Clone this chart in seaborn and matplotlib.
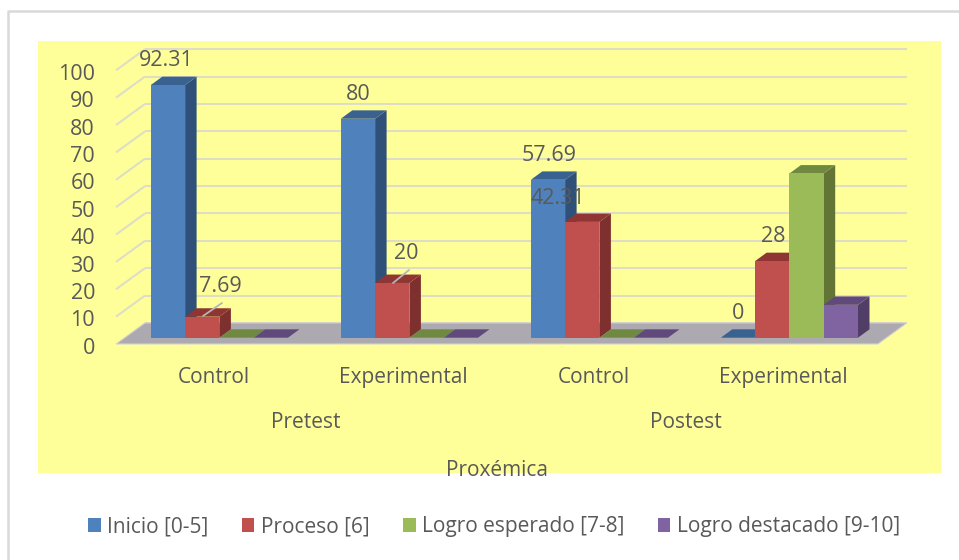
import numpy as np
import pandas as pd
import matplotlib
matplotlib.use("Agg")
import matplotlib.pyplot as plt
from matplotlib.patches import Polygon, Rectangle
from matplotlib.transforms import Affine2D
import seaborn as sns

groups = ["Pretest Control", "Pretest Experimental", "Postest Control", "Postest Experimental"]
tick_labels = ["Control", "Experimental", "Control", "Experimental"]
phases = ["Pretest", "Postest"]
levels = ["Inicio [0-5]", "Proceso [6]", "Logro esperado [7-8]", "Logro destacado [9-10]"]
inicio = [92.31, 80, 57.69, 0]
proceso = [7.69, 20, 42.31, 28]
esperado = [0, 0, 0, 60]
destacado = [0, 0, 0, 12]
y_ticks = list(range(0, 101, 10))

front_cols = ["#4F81BD", "#C0504D", "#9BBB59", "#8064A2"]
top_cols = ["#3A6291", "#8F3533", "#6F8A40", "#604A7B"]
side_cols = ["#2F5179", "#7E302E", "#637534", "#503E66"]
text_col = "#595959"
grid_col = "#DEDDC6"
W, H = 959, 560

sns.set_theme(style="white")
plt.rcParams["font.family"] = ["Open Sans", "DejaVu Sans"]

df = pd.DataFrame({
    "group": np.repeat(groups, 4),
    "level": levels * 4,
    "value": [v for row in zip(inicio, proceso, esperado, destacado) for v in row],
})

fig = plt.figure(figsize=(W / 100, H / 100), dpi=100, facecolor="white")

# outer frame and yellow plot area, in pixels of the figure
px = fig.add_axes([0, 0, 1, 1], zorder=0)
px.set_xlim(0, W)
px.set_ylim(H, 0)
px.axis("off")
px.plot([8, 8, W], [H, 11, 11], color="#D9D9D9", lw=1.8)
px.add_patch(Rectangle((38, 41), 903, 432, color="#FFFF99", lw=0))

# main axes = the plane of the bar fronts
left, right, base, top = 100, 900, 337.7, 64
ax = fig.add_axes([left / W, 1 - base / H, (right - left) / W, (base - top) / H], zorder=1)
ax.patch.set_alpha(0)
sns.barplot(data=df, x="group", y="value", hue="level", order=groups, hue_order=levels,
            palette=front_cols, width=0.722, gap=0, legend=False, ax=ax, saturation=1)
center0, spacing, unit = 219.4, 190, 2.737
ax.set_xlim((left - center0) / spacing, (right - center0) / spacing)
ax.set_ylim(0, 100)
sns.despine(ax=ax, left=True, bottom=True)
ax.set_xlabel("")
ax.set_ylabel("")


def xd(p):
    return (p - center0) / spacing


def yd(p):
    return (base - p) / unit


# floor and back wall
depth = 29 / spacing
rise_back = 14.8 / unit
drop_front = 6.3 / unit
x_wall = xd(116)
x_end = xd(878)
ax.add_patch(Polygon([(x_wall, -drop_front), (x_end, -drop_front),
                      (x_end + depth, rise_back), (x_wall + depth, rise_back)],
                     closed=True, facecolor="#ADA9B0", edgecolor="#D5D3D0", lw=0.8,
                     clip_on=False, zorder=1.5))
for t in y_ticks:
    yb = t + rise_back
    yf = t - drop_front
    ax.plot([x_wall + depth, xd(907)], [yb, yb], color=grid_col, lw=1.5,
            clip_on=False, zorder=1, solid_capstyle="butt")
    if t > 0:
        ax.plot([x_wall, x_wall + depth], [yf, yb], color=grid_col, lw=1.5,
                clip_on=False, zorder=1, solid_capstyle="butt")

# sides and tops for each bar, left to right so neighbours overlap properly
dx = 11.5 / spacing
dy = 8.4 / unit
for h, cont in enumerate(ax.containers):
    for bar in cont:
        x0, w, v = bar.get_x(), bar.get_width(), bar.get_height()
        z = 3 + h * 0.1
        bar.set_zorder(z + 0.05)
        bar.set_edgecolor("none")
        if v > 0:
            ax.add_patch(Polygon([(x0 + w, 0), (x0 + w + dx, dy), (x0 + w + dx, v + dy), (x0 + w, v)],
                                 closed=True, facecolor=side_cols[h], lw=0, clip_on=False, zorder=z))
        ax.add_patch(Polygon([(x0, v), (x0 + w, v), (x0 + w + dx, v + dy), (x0 + dx, v + dy)],
                             closed=True, facecolor=top_cols[h], lw=0, clip_on=False, zorder=z))

# value labels, only the first two series carry them
num_font = 15.5
txt_font = 15
pos_inicio = [(166, 60.5), (358, 94.5), (549, 155.5), (738, 313.5)]
pos_proceso = [(220.5, 286.5), (406.5, 253.5), (558, 198.5), (773, 236.5)]
for vals, pos in [(inicio, pos_inicio), (proceso, pos_proceso)]:
    for v, (xp, yp) in zip(vals, pos):
        ax.text(xd(xp), yd(yp), f"{v:g}", ha="center", va="center", fontsize=num_font,
                color=text_col, clip_on=False, zorder=6)

# small leader lines on the short red bars
for x1, y1, x2, y2 in [(203, 316, 222, 303), (393, 283, 409, 270)]:
    ax.plot([xd(x1), xd(x2)], [yd(y1), yd(y2)], color="#B5B5B5", lw=1.3,
            clip_on=False, zorder=5.5)

# axis text
ax.set_yticks(y_ticks)
ax.set_yticklabels([str(t) for t in y_ticks])
ax.tick_params(axis="y", length=0, labelsize=num_font, labelcolor=text_col, pad=0)
for lab in ax.get_yticklabels():
    lab.set_transform(lab.get_transform() + Affine2D().translate(-5, -8))
ax.set_xticks(np.arange(4) - 6 / spacing)
ax.set_xticklabels(tick_labels)
ax.tick_params(axis="x", length=0, labelsize=txt_font, labelcolor=text_col, pad=21)

for name, xp in zip(phases, [306, 686]):
    ax.text(xd(xp), yd(423), name, ha="center", va="center", fontsize=txt_font,
            color=text_col, clip_on=False)
ax.text(xd(497), yd(471), "Proxémica", ha="center", va="center", fontsize=txt_font,
        color=text_col, clip_on=False, zorder=7)

handles = [Rectangle((0, 0), 1, 1, facecolor=c, edgecolor="none") for c in front_cols]
fig.legend(handles, levels, loc="center", bbox_to_anchor=(494 / W, 1 - 526.5 / H), ncol=4,
           frameon=False, fontsize=txt_font, labelcolor=text_col,
           handlelength=0.6, handleheight=0.65, handletextpad=0.3, columnspacing=1.62,
           borderpad=0, borderaxespad=0)

fig.savefig("out.png", dpi=100, facecolor="white")
